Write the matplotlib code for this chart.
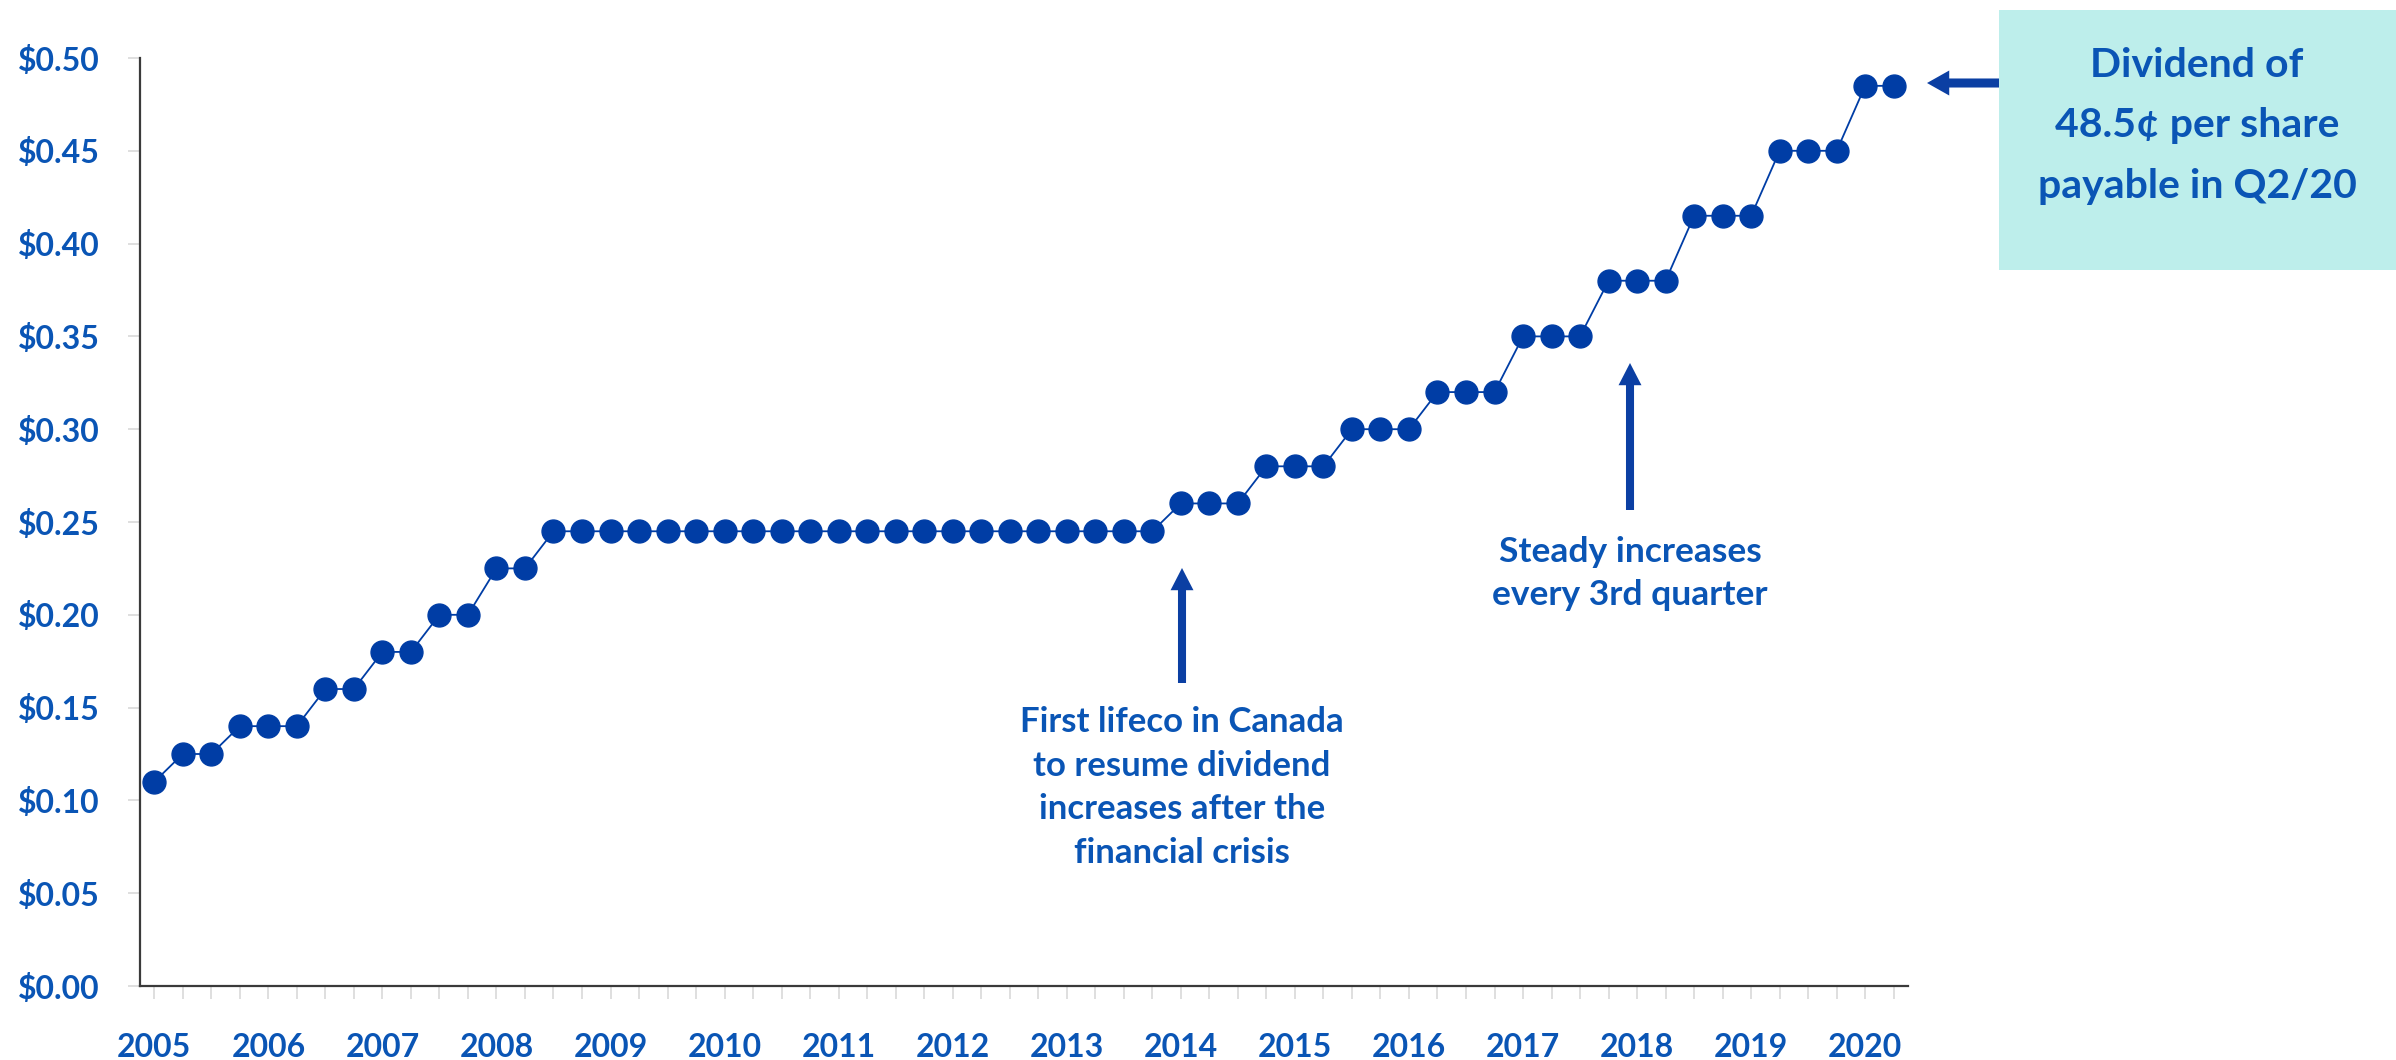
import numpy as np
import matplotlib
matplotlib.use("Agg")
import matplotlib.pyplot as plt
from matplotlib.patches import Rectangle

# ---- data ----
years = ['2005', '2006', '2007', '2008', '2009', '2010', '2011', '2012',
         '2013', '2014', '2015', '2016', '2017', '2018', '2019', '2020']
dividends = [0.110, 0.125, 0.125, 0.140, 0.140, 0.140, 0.160, 0.160,
             0.180, 0.180, 0.200, 0.200, 0.225, 0.225,
             0.245, 0.245, 0.245, 0.245, 0.245, 0.245, 0.245, 0.245,
             0.245, 0.245, 0.245, 0.245, 0.245, 0.245, 0.245, 0.245,
             0.245, 0.245, 0.245, 0.245, 0.245, 0.245,
             0.260, 0.260, 0.260, 0.280, 0.280, 0.280, 0.300, 0.300, 0.300,
             0.320, 0.320, 0.320, 0.350, 0.350, 0.350, 0.380, 0.380, 0.380,
             0.415, 0.415, 0.415, 0.450, 0.450, 0.450, 0.485, 0.485]
y_ticks = [0.00, 0.05, 0.10, 0.15, 0.20, 0.25, 0.30, 0.35, 0.40, 0.45, 0.50]
note_crisis = "First lifeco in Canada\nto resume dividend\nincreases after the\nfinancial crisis"
note_steady = "Steady increases\nevery 3rd quarter"
note_box = "Dividend of\n48.5\u00a2 per share\npayable in Q2/20"

# ---- style ----
FONT = ['Lato', 'DejaVu Sans']
plt.rcParams['font.family'] = FONT
text_blue = '#0A55B5'
mark_blue = '#003DA5'
arrow_blue = '#0B3FA3'

W, H = 2396, 1060
fig = plt.figure(figsize=(W / 100, H / 100), dpi=100)
fig.patch.set_facecolor('white')
ax = fig.add_axes([140 / W, (H - 986) / H, (1908 - 140) / W, (986 - 58) / H])

x = np.arange(len(dividends))
ax.plot(x, dividends, color=mark_blue, lw=1.3, marker='o', ms=16.5,
        mfc=mark_blue, mec=mark_blue, zorder=3, clip_on=False)

ax.set_xlim(-0.5, len(dividends) - 0.5)
ax.set_ylim(0, 0.5)

for s in ['top', 'right']:
    ax.spines[s].set_visible(False)
for s in ['left', 'bottom']:
    ax.spines[s].set_color('#3A3A3A')
    ax.spines[s].set_linewidth(1.6)

ax.set_yticks(y_ticks)
ax.set_yticklabels(['\\$%.2f' % v for v in y_ticks])
xlabels = [years[i // 4] if i % 4 == 0 else '' for i in x]
ax.set_xticks(x)
ax.set_xticklabels(xlabels)

ax.tick_params(axis='y', length=9, width=1.2, color='#D9D9D9', pad=20,
               labelsize=23, labelcolor=text_blue)
ax.tick_params(axis='x', length=9, width=1.2, color='#D9D9D9', pad=25,
               labelsize=23, labelcolor=text_blue)
for lab in ax.get_xticklabels() + ax.get_yticklabels():
    lab.set_fontweight('bold')


def px2data(px, py):
    dx = (px - 140) / 28.516 - 0.5
    dy = (986 - py) / 928 * 0.5
    return dx, dy


arrow_style = 'simple,head_length=16,head_width=16.5,tail_width=5.8'

# crisis arrow + text
ax.annotate('', xy=px2data(1182, 568), xytext=px2data(1182, 683),
            arrowprops=dict(arrowstyle=arrow_style, mutation_scale=1,
                            color=arrow_blue, lw=0, shrinkA=0, shrinkB=0),
            annotation_clip=False)
ax.text(*px2data(1182, 706), note_crisis, ha='center', va='top',
        fontsize=25, fontweight='bold', color=text_blue, linespacing=1.45)

# steady arrow + text
ax.annotate('', xy=px2data(1630, 363), xytext=px2data(1630, 510),
            arrowprops=dict(arrowstyle=arrow_style, mutation_scale=1,
                            color=arrow_blue, lw=0, shrinkA=0, shrinkB=0),
            annotation_clip=False)
ax.text(*px2data(1630, 536), note_steady, ha='center', va='top',
        fontsize=25.5, fontweight='bold', color=text_blue, linespacing=1.42)

# box arrow
ax.annotate('', xy=px2data(1927, 83), xytext=px2data(2000, 83),
            arrowprops=dict(arrowstyle='simple,head_length=16,head_width=18,tail_width=6.5',
                            mutation_scale=1, color=arrow_blue, lw=0,
                            shrinkA=0, shrinkB=0),
            annotation_clip=False)

# callout box
fig.add_artist(Rectangle((1999 / W, (H - 270) / H), (W - 1999) / W, 260 / H,
                         transform=fig.transFigure, facecolor='#BDEEEB',
                         edgecolor='none', zorder=1))
fig.text(2197 / W, (H - 126) / H, note_box, ha='center', va='center',
         fontsize=29.5, fontweight='bold', color=text_blue, linespacing=1.78,
         zorder=2)

fig.savefig('out.png', dpi=100, facecolor='white')
